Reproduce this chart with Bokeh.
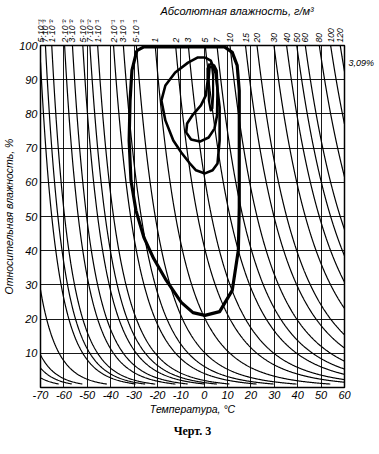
import numpy as np
from bokeh.plotting import figure
from bokeh.models import LinearAxis, FixedTicker, Title
from bokeh.embed import file_html
from bokeh.resources import INLINE

# saturation absolute humidity (g/m3) at temperature (deg C)
sat_temps = [-70, -60, -50, -40, -30, -20, -10, 0, 10, 20, 30, 40, 50, 60]
sat_abs_hum = [0.00525, 0.0193, 0.0620, 0.177, 0.456, 1.078, 2.364, 4.849,
               9.383, 17.24, 30.26, 50.99, 82.78, 130.05]

# absolute humidity isolines (g/m3) labelled at top
abs_levels = [0.005, 0.007, 0.01, 0.02, 0.03, 0.05, 0.07, 0.1, 0.2, 0.3, 0.5,
              1, 2, 3, 5, 7, 10, 15, 20, 30, 40, 50, 60, 80, 100, 120]
abs_labels = ["5·10⁻³", "7·10⁻³", "1·10⁻²", "2·10⁻²", "3·10⁻²", "5·10⁻²",
              "7·10⁻²", "1·10⁻¹", "2·10⁻¹", "3·10⁻¹", "5·10⁻¹",
              "1", "2", "3", "5", "7", "10", "15", "20", "30", "40", "50",
              "60", "80", "100", "120"]
# isolines entering from the left edge (unlabelled)
low_levels = [0.0015, 0.0005, 0.0003, 0.00015]

x_ticks = [-70, -60, -50, -40, -30, -20, -10, 0, 10, 20, 30, 40, 50, 60]
x_tick_labels = ["-70", "-60", "-50", "-40", "-30", "-20", "-10", "0", "10", "20",
                 "30", "40", "50", "60"]
y_ticks = [10, 20, 30, 40, 50, 60, 70, 80, 90, 100]
right_note_y = 95
right_note = "3,09%"

# frequency contours (temperature, relative humidity)
outer_T = [-28.8, -25.8, -17.4, -0.6, 8.7, 12.0, 14.1, 15.0, 15.0, 15.0, 14.6, 12.0,
           6.6, 0.3, -4.8, -9.8, -16.2, -21.6, -25.8, -29.2, -31.3, -32.1, -31.7,
           -30.9, -28.8]
outer_RH = [98.5, 99.6, 99.6, 99.6, 99.6, 98.0, 94.2, 86.8, 72.2, 52.6, 40.1, 28.4,
            22.2, 21.1, 21.9, 24.9, 31.3, 37.7, 43.9, 51.8, 60.5, 72.2, 83.9,
            92.7, 98.5]
middle_T = [0.3, 2.8, 4.9, 6.6, 6.6, 5.7, 3.6, 0.3, -3.5, -6.1, -9.8, -13.2, -16.6,
            -18.3, -16.6, -12.4, -6.9, -2.7, 0.3]
middle_RH = [96.5, 95.6, 91.8, 81.9, 72.2, 65.5, 63.5, 62.6, 63.5, 65.5, 68.7, 72.2,
             78.1, 83.9, 88.3, 92.1, 95.0, 96.5, 96.5]
inner_T = [2.4, 4.2, 5.3, 5.7, 5.5, 4.4, 1.9, -1.85, -5.6, -7.7, -7.3, -4.8, -1.4,
           0.7, 1.5, 1.5, 2.4]
inner_RH = [94.7, 94.2, 92.7, 86.8, 79.5, 75.7, 73.1, 71.9, 72.5, 74.6, 77.2, 79.8,
            82.5, 85.4, 89.8, 93.3, 94.7]
core_T = [2.4, 3.4, 3.8, 3.8, 3.5, 2.8, 2.0, 1.9, 2.4]
core_RH = [93.9, 93.6, 91.2, 85.4, 81.6, 81.0, 83.9, 89.8, 93.9]

FONT = "Liberation Sans"

# smooth model of ln(saturation humidity) fitted to the table
coef = np.polyfit(sat_temps, np.log(sat_abs_hum), 4)
t_fine = np.linspace(-75, 62, 2000)
ln_fine = np.polyval(coef, t_fine)


def t_of_sat(a):
    return float(np.interp(np.log(a), ln_fine, t_fine))


p = figure(width=379, height=454, x_range=(-70, 60), y_range=(0, 100),
           output_backend="svg", toolbar_location=None,
           min_border_left=35, min_border_right=35,
           min_border_top=45, min_border_bottom=67)
p.background_fill_color = "white"
p.border_fill_color = "white"
p.outline_line_color = "black"
p.outline_line_width = 1.5

p.xgrid.ticker = FixedTicker(ticks=x_ticks)
p.ygrid.ticker = FixedTicker(ticks=y_ticks)
for g in (p.xgrid[0], p.ygrid[0]):
    g.grid_line_color = "black"
    g.grid_line_alpha = 0.9
    g.grid_line_width = 1

xa = p.below[0]
xa.ticker = FixedTicker(ticks=x_ticks)
xa.major_label_overrides = {t: s for t, s in zip(x_ticks, x_tick_labels)}
xa.axis_label = "Температура, °С"
ya = p.left[0]
ya.ticker = FixedTicker(ticks=y_ticks)
ya.axis_label = "Относительная влажность, %"
for ax in (xa, ya):
    ax.axis_line_color = None
    ax.major_tick_line_color = None
    ax.minor_tick_line_color = None
    ax.major_tick_out = 0
    ax.major_tick_in = 0
    ax.major_label_text_font = FONT
    ax.major_label_text_font_style = "italic"
    ax.major_label_text_font_size = "11px"
    ax.major_label_text_color = "black"
    ax.axis_label_text_font = FONT
    ax.axis_label_text_font_style = "italic"
    ax.axis_label_text_font_size = "10.5px"
    ax.axis_label_text_color = "black"
    ax.major_label_standoff = 3
    ax.axis_label_standoff = 1

# isolines of absolute humidity
for a in abs_levels + low_levels:
    t0 = max(-70.0, t_of_sat(a))
    ts = np.linspace(t0, 60, 400)
    rh = 100.0 * a / np.exp(np.polyval(coef, ts))
    m = rh >= 1.0
    p.line(ts[m], np.minimum(rh[m], 100), line_color="black", line_width=1.2)

# top axis with absolute humidity labels
top_pos = [round(max(-69.8, t_of_sat(a)), 3) for a in abs_levels]
top = LinearAxis(ticker=FixedTicker(ticks=top_pos),
                 major_label_overrides={t: s for t, s in zip(top_pos, abs_labels)},
                 major_label_orientation="vertical",
                 axis_line_color=None, major_tick_line_color=None,
                 major_tick_out=0, major_tick_in=0,
                 minor_tick_line_color=None, major_label_standoff=3,
                 major_label_text_font=FONT, major_label_text_font_style="italic",
                 major_label_text_font_size="8.5px", major_label_text_color="black")
p.add_layout(top, "above")

# right note
right = LinearAxis(ticker=FixedTicker(ticks=[right_note_y]),
                   major_label_overrides={right_note_y: right_note},
                   axis_line_color=None, major_tick_line_color=None,
                   major_tick_out=0, major_tick_in=0,
                   minor_tick_line_color=None, major_label_standoff=4,
                   major_label_text_font=FONT, major_label_text_font_style="italic",
                   major_label_text_font_size="9px", major_label_text_color="black")
p.add_layout(right, "right")

p.add_layout(Title(text="Абсолютная влажность, г/м³", align="left", offset=120,
                   text_font=FONT, text_font_style="italic", text_font_size="11px",
                   text_color="black", standoff=0), "above")
p.add_layout(Title(text="Черт. 3", align="center", text_font="Liberation Serif",
                   text_font_style="bold", text_font_size="12px",
                   text_color="black", standoff=8), "below")

# contours
for T, R, w in ((outer_T, outer_RH, 3.2), (middle_T, middle_RH, 2.6),
                (inner_T, inner_RH, 2.6), (core_T, core_RH, 2.2)):
    p.line(T, R, line_color="black", line_width=w, line_join="round")

open("out.html", "w").write(file_html(p, INLINE))
